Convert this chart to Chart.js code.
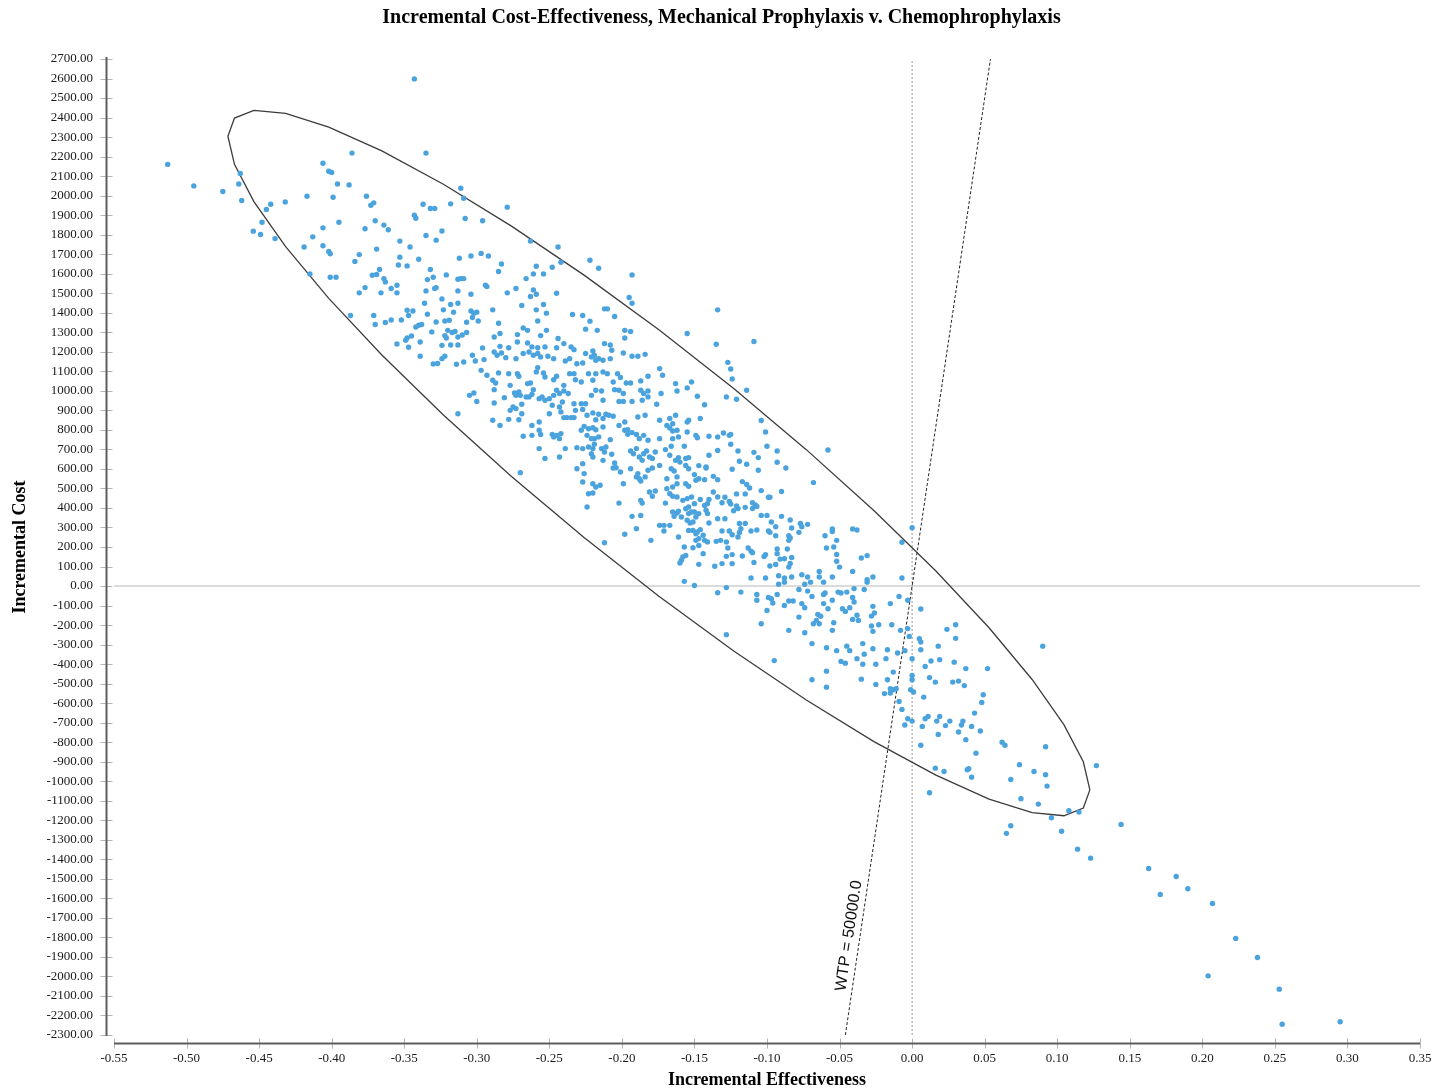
<!DOCTYPE html>
<html>
<head>
<meta charset="utf-8">
<title>Incremental Cost-Effectiveness</title>
<script src="https://cdn.jsdelivr.net/npm/chart.js@4.4.1/dist/chart.umd.min.js"></script>
<style>
  html, body { margin: 0; padding: 0; background: #fff; overflow: hidden; }
  canvas { display: block; }
</style>
</head>
<body>
<canvas id="icerChart" width="1433" height="1092"></canvas>
<script>
// [incremental effectiveness, incremental cost] per simulation
const samples = [
  [-0.343,2598],[-0.513,2160],[-0.495,2050],[-0.475,2021],[-0.463,2114],[-0.464,2060],[-0.462,1975],[-0.386,2218],[-0.335,2218],[-0.406,2166],
  [-0.402,2125],[-0.400,2119],[-0.396,2060],[-0.388,2055],[-0.417,1997],[-0.399,1992],[-0.376,1997],[-0.373,1951],[-0.371,1963],[-0.432,1968],
  [-0.442,1956],[-0.445,1929],[-0.448,1864],[-0.454,1818],[-0.449,1801],[-0.439,1780],[-0.395,1864],[-0.406,1835],[-0.413,1789],[-0.419,1737],
  [-0.406,1743],[-0.402,1714],[-0.401,1702],[-0.381,1698],[-0.384,1663],[-0.415,1599],[-0.401,1582],[-0.397,1582],[-0.377,1830],[-0.370,1871],
  [-0.364,1849],[-0.361,1825],[-0.369,1726],[-0.353,1767],[-0.346,1737],[-0.353,1685],[-0.354,1645],[-0.348,1640],[-0.340,1674],[-0.335,1796],
  [-0.328,1772],[-0.337,1956],[-0.332,1934],[-0.329,1934],[-0.343,1900],[-0.342,1884],[-0.372,1592],[-0.369,1596],[-0.367,1622],[-0.364,1575],
  [-0.363,1558],[-0.381,1502],[-0.377,1529],[-0.366,1502],[-0.359,1524],[-0.355,1541],[-0.355,1502],[-0.332,1622],[-0.334,1570],[-0.330,1582],
  [-0.335,1512],[-0.329,1524],[-0.328,1529],[-0.336,1449],[-0.387,1386],[-0.371,1386],[-0.370,1340],[-0.363,1350],[-0.359,1363],[-0.352,1363],
  [-0.347,1386],[-0.348,1413],[-0.344,1409],[-0.334,1392],[-0.342,1327],[-0.340,1336],[-0.338,1340],[-0.328,1353],[-0.348,1271],[-0.345,1281],
  [-0.331,1302],[-0.355,1240],[-0.349,1259],[-0.347,1223],[-0.339,1250],[-0.339,1177],[-0.330,1138],[-0.327,1140],
  [-0.311,2038],[-0.309,1987],[-0.318,1958],[-0.279,1941],[-0.308,1883],[-0.296,1871],[-0.324,1819],[-0.263,1767],[-0.244,1737],[-0.222,1669],
  [-0.216,1628],[-0.242,1659],[-0.248,1633],[-0.193,1594],[-0.312,1679],[-0.304,1691],[-0.297,1704],[-0.292,1691],[-0.283,1650],[-0.285,1611],
  [-0.321,1594],[-0.313,1572],[-0.311,1575],[-0.309,1575],[-0.259,1638],[-0.261,1599],[-0.254,1599],[-0.266,1575],[-0.294,1541],[-0.293,1534],
  [-0.313,1512],[-0.304,1495],[-0.279,1502],[-0.273,1524],[-0.261,1517],[-0.259,1495],[-0.263,1483],[-0.245,1500],[-0.324,1471],[-0.318,1442],
  [-0.313,1449],[-0.323,1415],[-0.316,1403],[-0.304,1409],[-0.302,1398],[-0.300,1403],[-0.303,1376],[-0.299,1358],[-0.289,1415],[-0.269,1437],
  [-0.259,1415],[-0.254,1442],[-0.252,1398],[-0.258,1358],[-0.234,1391],[-0.227,1386],[-0.222,1357],[-0.212,1420],[-0.210,1420],[-0.205,1381],
  [-0.195,1478],[-0.193,1449],[-0.134,1415],[-0.155,1294],[-0.322,1358],[-0.319,1362],[-0.307,1351],[-0.285,1346],[-0.320,1310],[-0.317,1299],
  [-0.315,1304],[-0.307,1299],[-0.310,1286],[-0.322,1283],[-0.321,1271],[-0.313,1276],[-0.288,1276],[-0.284,1294],[-0.272,1288],[-0.268,1322],
  [-0.265,1310],[-0.256,1283],[-0.252,1310],[-0.244,1268],[-0.225,1316],[-0.217,1310],[-0.198,1310],[-0.194,1304],[-0.198,1271],
  [-0.324,1233],[-0.318,1235],[-0.313,1235],[-0.296,1220],[-0.284,1228],[-0.278,1221],[-0.272,1250],[-0.265,1245],[-0.262,1225],[-0.258,1221],
  [-0.253,1225],[-0.245,1221],[-0.240,1242],[-0.235,1225],[-0.233,1211],[-0.225,1191],[-0.220,1204],[-0.219,1182],[-0.212,1242],[-0.208,1235],
  [-0.207,1208],[-0.199,1194],[-0.193,1177],[-0.189,1177],[-0.184,1187],[-0.135,1239],
  [-0.324,1165],[-0.322,1177],[-0.314,1136],[-0.309,1148],[-0.303,1182],[-0.301,1153],[-0.295,1160],[-0.288,1199],[-0.286,1182],[-0.283,1194],
  [-0.280,1170],[-0.273,1165],[-0.268,1191],[-0.264,1199],[-0.261,1182],[-0.258,1191],[-0.256,1174],[-0.251,1177],[-0.247,1165],[-0.239,1153],
  [-0.236,1165],[-0.231,1139],[-0.227,1143],[-0.221,1174],[-0.218,1157],[-0.216,1165],[-0.213,1157],[-0.208,1165],
  [-0.297,1105],[-0.293,1080],[-0.289,1054],[-0.287,1040],[-0.285,1092],[-0.278,1088],[-0.277,1028],[-0.272,1088],[-0.271,1075],[-0.265,1037],
  [-0.263,1040],[-0.259,1097],[-0.258,1119],[-0.254,1092],[-0.253,1071],[-0.247,1057],[-0.245,1075],[-0.240,1028],[-0.236,1088],[-0.233,1088],
  [-0.232,1057],[-0.228,1045],[-0.223,1088],[-0.220,1054],[-0.218,1088],[-0.213,1097],[-0.210,1088],[-0.206,1045],[-0.203,1088],[-0.201,1068],
  [-0.197,1040],[-0.194,1040],[-0.187,1051],[-0.182,1075],[-0.174,1114],[-0.172,1080],[-0.163,1037],[-0.152,1045],[-0.155,1015],
  [-0.305,977],[-0.302,989],[-0.300,946],[-0.288,1006],[-0.288,938],[-0.281,965],[-0.274,989],[-0.273,977],[-0.271,994],[-0.270,977],
  [-0.266,969],[-0.264,969],[-0.261,1006],[-0.262,982],[-0.257,960],[-0.255,969],[-0.253,952],[-0.250,960],[-0.247,977],[-0.245,1003],
  [-0.243,986],[-0.240,999],[-0.237,986],[-0.248,926],[-0.241,943],[-0.233,934],[-0.228,934],[-0.225,934],[-0.221,977],[-0.218,1003],
  [-0.214,999],[-0.213,952],[-0.205,1006],[-0.202,1003],[-0.199,986],[-0.202,946],[-0.199,946],[-0.193,946],[-0.187,1003],[-0.185,986],
  [-0.182,999],[-0.182,969],[-0.186,952],[-0.176,931],[-0.173,986],[-0.162,999],[-0.148,972],[-0.143,929],
  [-0.313,883],[-0.289,849],[-0.284,823],[-0.278,854],[-0.277,900],[-0.275,917],[-0.273,909],[-0.271,852],[-0.269,883],[-0.269,931],
  [-0.262,823],[-0.257,840],[-0.250,883],[-0.243,917],[-0.242,892],[-0.240,863],[-0.238,863],[-0.235,863],[-0.233,863],[-0.232,900],
  [-0.227,905],[-0.224,875],[-0.220,887],[-0.218,852],[-0.216,880],[-0.213,858],[-0.211,880],[-0.209,875],[-0.206,870],[-0.202,823],
  [-0.198,840],[-0.196,801],[-0.189,866],[-0.184,875],[-0.174,849],[-0.167,858],[-0.165,832],[-0.163,875],[-0.155,840],[-0.154,849],[-0.146,858],
  [-0.268,767],[-0.262,772],[-0.257,798],[-0.256,776],[-0.248,777],[-0.247,764],[-0.245,772],[-0.243,755],[-0.242,781],[-0.228,798],
  [-0.226,818],[-0.223,806],[-0.220,811],[-0.218,801],[-0.224,772],[-0.221,755],[-0.219,755],[-0.216,764],[-0.213,815],[-0.208,750],
  [-0.198,798],[-0.196,777],[-0.193,786],[-0.190,776],[-0.188,755],[-0.185,772],[-0.182,747],[-0.174,755],[-0.169,823],[-0.167,810],
  [-0.165,794],[-0.162,798],[-0.165,755],[-0.161,764],[-0.155,789],[-0.149,772],[-0.148,760],[-0.140,767],[-0.134,764],
  [-0.257,704],[-0.253,653],[-0.243,661],[-0.239,704],[-0.231,709],[-0.227,704],[-0.223,712],[-0.220,704],[-0.221,678],[-0.220,661],
  [-0.219,726],[-0.214,704],[-0.212,687],[-0.211,712],[-0.207,675],[-0.205,630],[-0.204,606],[-0.201,584],[-0.194,692],[-0.192,678],
  [-0.190,704],[-0.188,661],[-0.186,644],[-0.185,678],[-0.183,692],[-0.181,661],[-0.179,653],[-0.177,687],[-0.174,618],[-0.170,699],
  [-0.167,670],[-0.166,716],[-0.163,644],[-0.161,658],[-0.160,635],[-0.157,716],[-0.156,653],[-0.154,658],[-0.147,617],[-0.142,610],
  [-0.140,670],[-0.134,695],
  [-0.270,581],[-0.231,601],[-0.227,627],[-0.226,576],[-0.227,533],[-0.220,524],[-0.218,507],[-0.215,516],[-0.213,644],[-0.206,605],
  [-0.199,524],[-0.194,601],[-0.190,559],[-0.189,576],[-0.188,550],[-0.187,538],[-0.184,559],[-0.182,593],[-0.179,605],[-0.169,550],
  [-0.166,601],[-0.164,589],[-0.162,559],[-0.156,618],[-0.154,601],[-0.156,524],[-0.154,511],[-0.150,571],[-0.149,542],[-0.147,550],
  [-0.143,545],[-0.142,605],[-0.137,562],[-0.134,545],[-0.162,524],[-0.165,507],
  [-0.223,473],[-0.220,477],[-0.224,405],[-0.202,425],[-0.187,439],[-0.186,425],[-0.181,482],[-0.177,487],[-0.179,460],[-0.170,425],
  [-0.169,499],[-0.167,473],[-0.165,460],[-0.162,456],[-0.158,439],[-0.155,448],[-0.152,456],[-0.150,422],[-0.146,443],[-0.143,413],
  [-0.141,422],[-0.140,443],[-0.137,482],[-0.134,456],[-0.154,405],
  [-0.193,357],[-0.187,362],[-0.174,311],[-0.171,311],[-0.167,311],[-0.165,379],[-0.164,357],[-0.162,374],[-0.161,384],[-0.159,354],
  [-0.156,396],[-0.154,371],[-0.152,379],[-0.150,379],[-0.155,337],[-0.153,323],[-0.151,328],[-0.149,354],[-0.147,371],[-0.142,388],
  [-0.141,371],[-0.140,323],[-0.134,345],[-0.154,285],
  [-0.198,265],[-0.190,294],[-0.180,234],[-0.171,282],[-0.161,251],[-0.151,285],[-0.149,268],[-0.148,277],[-0.146,289],[-0.144,260],
  [-0.149,234],[-0.147,243],[-0.143,234],[-0.141,226],[-0.135,229],[-0.151,196],[-0.147,208],[-0.212,222],
  [-0.157,200],[-0.144,166],[-0.160,118],[-0.159,132],[-0.158,149],[-0.156,157],[-0.147,111],[-0.136,101],[-0.157,24],[-0.150,3],[-0.134,-34],
  [-0.109,1253],[-0.127,1146],[-0.125,1112],[-0.124,1061],[-0.114,1003],[-0.128,969],[-0.121,957],[-0.104,848],[-0.101,789],[-0.130,784],
  [-0.126,772],[-0.125,777],[-0.125,726],[-0.120,692],[-0.109,685],[-0.100,716],[-0.093,692],[-0.058,697],[-0.106,658],[-0.119,639],
  [-0.114,624],[-0.093,634],[-0.087,605],[-0.124,598],[-0.106,593],[-0.068,530],[-0.117,535],[-0.114,520],[-0.112,502],[-0.104,489],
  [-0.090,484],[-0.121,472],[-0.115,472],[-0.099,455],[-0.098,455],[-0.129,455],[-0.131,427],[-0.126,433],[-0.125,420],[-0.121,410],
  [-0.120,397],[-0.123,386],[-0.115,403],[-0.110,427],[-0.108,415],[-0.110,397],[-0.107,408],[-0.104,362],[-0.100,362],[-0.129,345],
  [-0.119,321],[-0.115,321],[-0.118,294],[-0.119,274],[-0.097,328],[-0.090,357],[-0.084,338],[-0.094,304],[-0.083,297],[-0.077,321],
  [-0.076,304],[-0.072,316],[-0.078,275],[-0.131,282],[-0.126,282],[-0.124,263],[-0.120,251],[-0.111,282],[-0.107,287],[-0.099,282],
  [-0.098,275],[-0.094,258],[-0.085,258],[-0.084,246],[-0.085,234],[-0.060,258],[-0.055,292],[-0.055,279],[-0.052,234],[-0.041,292],
  [-0.038,287],[-0.132,234],[-0.128,226],[-0.127,195],[-0.113,195],[-0.111,179],[-0.110,171],[-0.102,151],[-0.101,161],[-0.093,190],
  [-0.093,166],[-0.091,138],[-0.088,140],[-0.086,190],[-0.083,146],[-0.084,116],[-0.085,97],[-0.059,195],[-0.054,200],[-0.052,162],
  [-0.052,127],[-0.050,97],[-0.035,144],[-0.031,156],[-0.041,75],[-0.128,152],[-0.124,161],[-0.117,154],[-0.109,121],[-0.098,103],
  [-0.094,110],[-0.124,115],[-0.131,115],[-0.064,75],[-0.007,224],[0.000,299],[-0.111,41],[-0.101,41],[-0.092,53],[-0.088,41],
  [-0.083,46],[-0.076,58],[-0.072,46],[-0.064,46],[-0.055,46],[-0.027,46],[-0.007,41],[-0.031,33],
  [-0.128,-8],[-0.118,-31],[-0.092,9],[-0.088,20],[-0.074,9],[-0.070,20],[-0.061,20],[-0.031,20],[-0.107,-43],[-0.107,-73],
  [-0.099,-59],[-0.097,-65],[-0.096,-87],[-0.093,-43],[-0.085,-77],[-0.082,-77],[-0.078,-18],[-0.072,-26],[-0.069,-53],[-0.061,-43],
  [-0.060,-36],[-0.051,-31],[-0.045,-31],[-0.049,-36],[-0.040,-13],[-0.033,-18],[-0.041,-59],[-0.040,-82],[-0.055,-73],[-0.061,-90],
  [-0.076,-90],[-0.074,-111],[-0.088,-100],[-0.100,-125],[-0.058,-116],[-0.048,-116],[-0.046,-130],[-0.043,-111],[-0.027,-104],[-0.026,-138],
  [-0.028,-154],[-0.015,-90],[-0.009,-53],[-0.003,-73],[0.006,-118],[-0.078,-159],[-0.065,-145],[-0.063,-155],[-0.066,-176],[-0.068,-193],
  [-0.064,-193],[-0.041,-171],[-0.038,-150],[-0.037,-176],[-0.054,-188],[-0.104,-193],[-0.028,-205],[-0.027,-232],[-0.023,-198],[-0.014,-198],
  [-0.008,-227],[-0.003,-218],[-0.002,-258],[-0.085,-227],[-0.074,-239],[-0.055,-227],[-0.128,-249],[0.024,-222],[0.030,-198],[0.030,-268],
  [0.005,-270],[0.006,-287],[0.006,-326],[-0.069,-295],[-0.059,-316],[-0.052,-331],[-0.045,-308],[-0.043,-331],[-0.034,-295],[-0.033,-349],
  [-0.038,-372],[-0.027,-321],[-0.017,-326],[-0.010,-343],[-0.005,-331],[-0.018,-372],[0.000,-372],[0.013,-384],[0.019,-377],[0.018,-308],
  [0.029,-390],[0.037,-423],[0.052,-423],[0.009,-412],[-0.095,-382],[-0.049,-386],[-0.046,-395],[-0.034,-401],[-0.025,-401],[-0.059,-436],
  [-0.013,-441],[0.000,-458],[0.000,-480],[0.012,-469],[0.016,-492],[0.028,-492],[0.032,-487],[0.036,-510],[-0.069,-480],[-0.035,-477],
  [-0.025,-504],[-0.017,-480],[-0.059,-518],[-0.015,-526],[-0.013,-531],[-0.011,-526],[-0.015,-548],[-0.019,-551],[-0.001,-531],[0.001,-543],
  [0.008,-569],[0.049,-557],[0.048,-596],[-0.009,-591],[-0.007,-632],[0.043,-651],[0.011,-668],[0.009,-680],[0.019,-668],[0.017,-692],
  [0.026,-692],[0.023,-715],[0.035,-692],[0.034,-712],[0.041,-719],[0.047,-743],[-0.003,-680],[0.000,-692],[-0.005,-712],[0.007,-719],
  [0.018,-760],[0.032,-748],[0.037,-787],[0.006,-816],[0.044,-856],[0.016,-933],[0.022,-950],[0.038,-941],[0.039,-936],[0.041,-979],[0.012,-1059],
  [0.090,-308],[0.062,-800],[0.064,-816],[0.092,-823],[0.074,-915],[0.084,-950],[0.092,-967],[0.093,-1025],[0.127,-920],[0.068,-991],
  [0.075,-1090],[0.087,-1117],[0.108,-1151],[0.115,-1158],[0.096,-1187],[0.068,-1228],[0.065,-1267],[0.103,-1256],[0.144,-1221],[0.114,-1348],
  [0.123,-1394],[0.163,-1447],[0.182,-1488],[0.171,-1580],[0.190,-1551],[0.207,-1626],[0.223,-1806],[0.238,-1903],[0.204,-1997],[0.253,-2065],
  [0.255,-2245],[0.295,-2232]
];

// axis ranges and tick steps
const xRange = [-0.55, 0.35];
const xStep = 0.05;
const yRange = [-2300, 2700];
const yStep = 100;

// confidence ellipse: centre, spread (sd) and correlation
const ellipseCenter = [-0.1745, 630];
const ellipseSpread = [0.297, 1808];
const ellipseCorr = -0.926;

// willingness-to-pay threshold
const wtp = 50000;

const titleText = 'Incremental Cost-Effectiveness, Mechanical Prophylaxis v. Chemophrophylaxis';
const xTitle = 'Incremental Effectiveness';
const yTitle = 'Incremental Cost';
const wtpLabel = 'WTP = 50000.0';

function ellipsePoints(n) {
  const pts = [];
  const k = Math.sqrt(1 - ellipseCorr * ellipseCorr);
  for (let i = 0; i <= n; i++) {
    const t = i / n * 2 * Math.PI;
    pts.push({
      x: ellipseCenter[0] + ellipseSpread[0] * Math.cos(t),
      y: ellipseCenter[1] + ellipseSpread[1] * (ellipseCorr * Math.cos(t) + k * Math.sin(t))
    });
  }
  return pts;
}

function fmt(v) {
  if (Math.abs(v) < 1e-9) v = 0;
  return v.toFixed(2);
}

// axis lines, tick marks, titles and the WTP label
const frame = {
  id: 'frame',
  afterDraw(chart) {
    const ctx = chart.ctx;
    const a = chart.chartArea;
    const xs = chart.scales.x, ys = chart.scales.y;
    const ax = a.left - 7.5, ay = a.bottom + 8.5;
    ctx.save();

    ctx.strokeStyle = '#b5b5b5';
    ctx.lineWidth = 1;
    ctx.beginPath();
    ys.ticks.forEach(t => {
      const py = Math.round(ys.getPixelForValue(t.value)) + 0.5;
      ctx.moveTo(ax - 6, py); ctx.lineTo(ax + 6, py);
    });
    xs.ticks.forEach(t => {
      const px = Math.round(xs.getPixelForValue(t.value)) + 0.5;
      ctx.moveTo(px, ay - 5); ctx.lineTo(px, ay + 5);
    });
    ctx.stroke();

    ctx.strokeStyle = '#5c5c5c';
    ctx.lineWidth = 2;
    ctx.beginPath();
    ctx.moveTo(ax, a.top - 2); ctx.lineTo(ax, a.bottom + 1);
    ctx.moveTo(a.left, ay); ctx.lineTo(a.right, ay);
    ctx.stroke();

    ctx.fillStyle = '#000';
    ctx.textAlign = 'center';
    ctx.textBaseline = 'middle';
    ctx.font = 'bold 20px "Liberation Serif"';
    ctx.fillText(titleText, chart.width / 2 + 5, 18);
    ctx.font = 'bold 18px "Liberation Serif"';
    ctx.fillText(xTitle, (a.left + a.right) / 2, 1080);
    ctx.save();
    ctx.translate(20, (a.top + a.bottom) / 2);
    ctx.rotate(-Math.PI / 2);
    ctx.fillText(yTitle, 0, 0);
    ctx.restore();

    // label along the WTP line
    const p1x = xs.getPixelForValue(yRange[0] / wtp), p1y = ys.getPixelForValue(yRange[0]);
    const p2x = xs.getPixelForValue(yRange[1] / wtp), p2y = ys.getPixelForValue(yRange[1]);
    const ang = Math.atan2(p2y - p1y, p2x - p1x);
    const yl = -1800;
    ctx.translate(xs.getPixelForValue(yl / wtp), ys.getPixelForValue(yl));
    ctx.rotate(ang);
    ctx.font = '16px "Liberation Sans"';
    ctx.fillStyle = '#111';
    ctx.textBaseline = 'bottom';
    ctx.fillText(wtpLabel, 0, -3);
    ctx.restore();
  }
};

const tickFont = { family: 'Liberation Serif', size: 13 };

new Chart(document.getElementById('icerChart'), {
  type: 'scatter',
  data: {
    datasets: [{
      label: 'Samples',
      data: samples.map(p => ({ x: p[0], y: p[1] })),
      backgroundColor: '#4aa3dd',
      borderWidth: 0,
      pointRadius: 2.7,
      pointHoverRadius: 2.7
    }, {
      label: 'Ellipse',
      data: ellipsePoints(36),
      showLine: true,
      borderColor: '#3c3c3c',
      borderWidth: 1.3,
      pointRadius: 0,
      tension: 0,
      fill: false
    }, {
      label: 'WTP',
      data: [{ x: yRange[0] / wtp, y: yRange[0] }, { x: yRange[1] / wtp, y: yRange[1] }],
      showLine: true,
      borderColor: '#222',
      borderWidth: 1,
      borderDash: [3, 2],
      pointRadius: 0,
      fill: false
    }, {
      label: 'zero x',
      data: [{ x: 0, y: yRange[0] }, { x: 0, y: yRange[1] }],
      showLine: true,
      borderColor: '#999',
      borderWidth: 1,
      borderDash: [2, 2],
      pointRadius: 0,
      fill: false
    }, {
      label: 'zero y',
      data: [{ x: xRange[0], y: 0 }, { x: xRange[1], y: 0 }],
      showLine: true,
      borderColor: '#cfcfcf',
      borderWidth: 1.5,
      pointRadius: 0,
      fill: false
    }]
  },
  options: {
    responsive: false,
    animation: false,
    devicePixelRatio: 1,
    layout: { padding: { top: 59, right: 13, left: 0, bottom: 0 } },
    plugins: {
      legend: { display: false },
      tooltip: { enabled: false },
      title: { display: false }
    },
    scales: {
      x: {
        type: 'linear',
        min: xRange[0],
        max: xRange[1],
        afterFit: s => { s.height = 57; s.paddingLeft = 0; s.paddingRight = 0; },
        border: { display: false },
        grid: { display: false, drawTicks: false },
        ticks: {
          stepSize: xStep,
          autoSkip: false,
          maxRotation: 0,
          padding: 16,
          color: '#1a1a1a',
          font: tickFont,
          callback: v => fmt(v)
        }
      },
      y: {
        type: 'linear',
        min: yRange[0],
        max: yRange[1],
        afterFit: s => { s.width = 114; },
        border: { display: false },
        grid: { display: false, drawTicks: false },
        ticks: {
          stepSize: yStep,
          autoSkip: false,
          padding: 21,
          color: '#1a1a1a',
          font: tickFont,
          callback: v => fmt(v)
        }
      }
    }
  },
  plugins: [frame]
});
</script>
</body>
</html>
